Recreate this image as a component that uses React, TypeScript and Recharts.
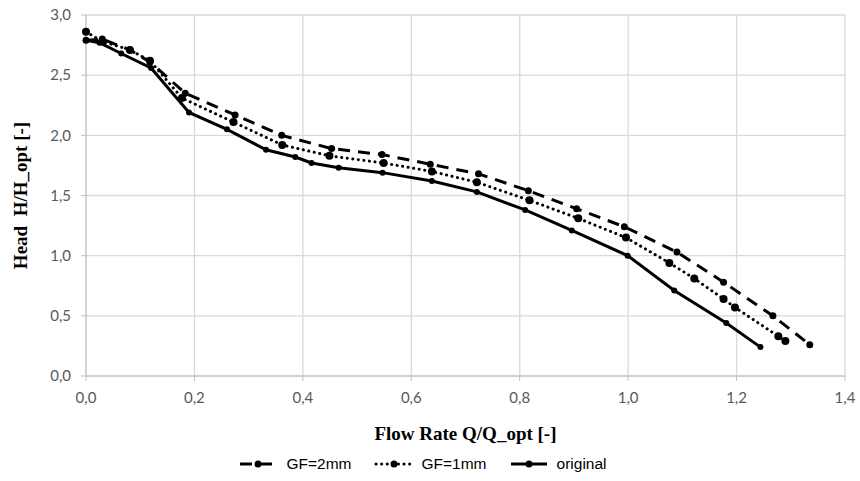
import React from 'react';
import {
  LineChart,
  Line,
  XAxis,
  YAxis,
  CartesianGrid,
  Legend,
  Label,
} from 'recharts';

// flow rate Q/Q_opt and head H/H_opt
const qGap2 = [0, 0.03, 0.081, 0.118, 0.183, 0.275, 0.361, 0.453, 0.546, 0.635, 0.724, 0.816, 0.905, 0.993, 1.09, 1.176, 1.267, 1.335];
const hGap2 = [2.79, 2.8, 2.71, 2.61, 2.35, 2.17, 2.0, 1.89, 1.84, 1.76, 1.68, 1.54, 1.39, 1.24, 1.03, 0.78, 0.5, 0.26];

const qGap1 = [0, 0.03, 0.081, 0.118, 0.177, 0.272, 0.362, 0.449, 0.549, 0.638, 0.721, 0.818, 0.908, 0.996, 1.076, 1.122, 1.176, 1.197, 1.277, 1.29];
const hGap1 = [2.86, 2.78, 2.71, 2.62, 2.31, 2.11, 1.92, 1.83, 1.77, 1.7, 1.61, 1.46, 1.31, 1.15, 0.94, 0.81, 0.64, 0.57, 0.33, 0.29];

const qOrig = [0, 0.025, 0.065, 0.12, 0.19, 0.26, 0.332, 0.386, 0.416, 0.466, 0.547, 0.638, 0.721, 0.81, 0.896, 0.999, 1.085, 1.181, 1.244];
const hOrig = [2.79, 2.77, 2.68, 2.56, 2.19, 2.05, 1.88, 1.82, 1.77, 1.73, 1.69, 1.62, 1.53, 1.38, 1.21, 1.0, 0.71, 0.44, 0.24];

const seriesNames = ['GF=2mm', 'GF=1mm', 'original'];

const xTicks = [0, 0.2, 0.4, 0.6, 0.8, 1.0, 1.2, 1.4];
const yTicks = [0, 0.5, 1.0, 1.5, 2.0, 2.5, 3.0];

const toPoints = (q: number[], h: number[]) => q.map((v, i) => ({ q: v, h: h[i] }));

const comma = (v: number) => v.toFixed(1).replace('.', ',');

const tickStyle = { fill: '#595959', fontSize: 15, fontFamily: 'Lato' };
const titleStyle = { fontFamily: '"Liberation Serif", "Times New Roman"', fontWeight: 'bold', fontSize: 19, fill: '#000' };

function LegendContent(props: any) {
  const items = props.payload || [];
  return (
    <div style={{ display: 'flex', justifyContent: 'center', gap: 22, paddingTop: 15, fontFamily: '"Liberation Sans", Arial', fontSize: 15.5, color: '#000' }}>
      {items.map((it: any) => (
        <div key={it.value} style={{ display: 'flex', alignItems: 'center', gap: 8 }}>
          <svg width={40} height={12}>
            <line x1={2} y1={6} x2={38} y2={6} stroke="#000" strokeWidth={3}
              strokeDasharray={it.payload?.strokeDasharray} strokeLinecap={it.payload?.strokeLinecap} />
            <circle cx={20} cy={6} r={3.5} fill="#000" />
          </svg>
          <span>{it.value}</span>
        </div>
      ))}
    </div>
  );
}

export default function App() {
  return (
    <div style={{ position: 'absolute', left: 0, top: 0, background: '#fff' }}>
      <LineChart width={860} height={481} margin={{ top: 15, right: 15, left: 0, bottom: 0 }}>
        <CartesianGrid stroke="#d9d9d9" strokeWidth={1.3} />
        <XAxis
          type="number"
          dataKey="q"
          domain={[0, 1.4]}
          ticks={xTicks}
          tickFormatter={comma}
          tick={tickStyle}
          tickMargin={11}
          tickSize={5}
          stroke="#bfbfbf"
          height={64}
        >
          <Label value="Flow Rate Q/Q_opt [-]" position="insideBottom" offset={0} style={titleStyle} />
        </XAxis>
        <YAxis
          type="number"
          dataKey="h"
          domain={[0, 3]}
          ticks={yTicks}
          tickFormatter={comma}
          tick={tickStyle}
          tickMargin={10}
          tickSize={5}
          stroke="#bfbfbf"
          width={86}
        >
          <Label
            value={'Head\u00a0\u00a0H/H_opt [-]'}
            angle={-90}
            position="insideLeft"
            offset={20}
            style={{ ...titleStyle, textAnchor: 'middle' }}
          />
        </YAxis>
        <Legend
          verticalAlign="bottom"
          height={41}
          content={LegendContent}
          itemSorter={(item: any) => seriesNames.indexOf(item.value)}
        />
        <Line
          data={toPoints(qGap2, hGap2)}
          dataKey="h"
          name={seriesNames[0]}
          stroke="#000"
          strokeWidth={3}
          strokeDasharray="12 8"
          dot={{ r: 3.5, fill: '#000', stroke: '#000', strokeWidth: 0, strokeDasharray: '' }}
          isAnimationActive={false}
        />
        <Line
          data={toPoints(qGap1, hGap1)}
          dataKey="h"
          name={seriesNames[1]}
          stroke="#000"
          strokeWidth={3}
          strokeDasharray="0.1 5.5"
          strokeLinecap="round"
          dot={{ r: 4, fill: '#000', stroke: '#000', strokeWidth: 0, strokeDasharray: '' }}
          isAnimationActive={false}
        />
        <Line
          data={toPoints(qOrig, hOrig)}
          dataKey="h"
          name={seriesNames[2]}
          stroke="#000"
          strokeWidth={3}
          dot={{ r: 3, fill: '#000', stroke: '#000', strokeWidth: 0 }}
          isAnimationActive={false}
        />
      </LineChart>
    </div>
  );
}
